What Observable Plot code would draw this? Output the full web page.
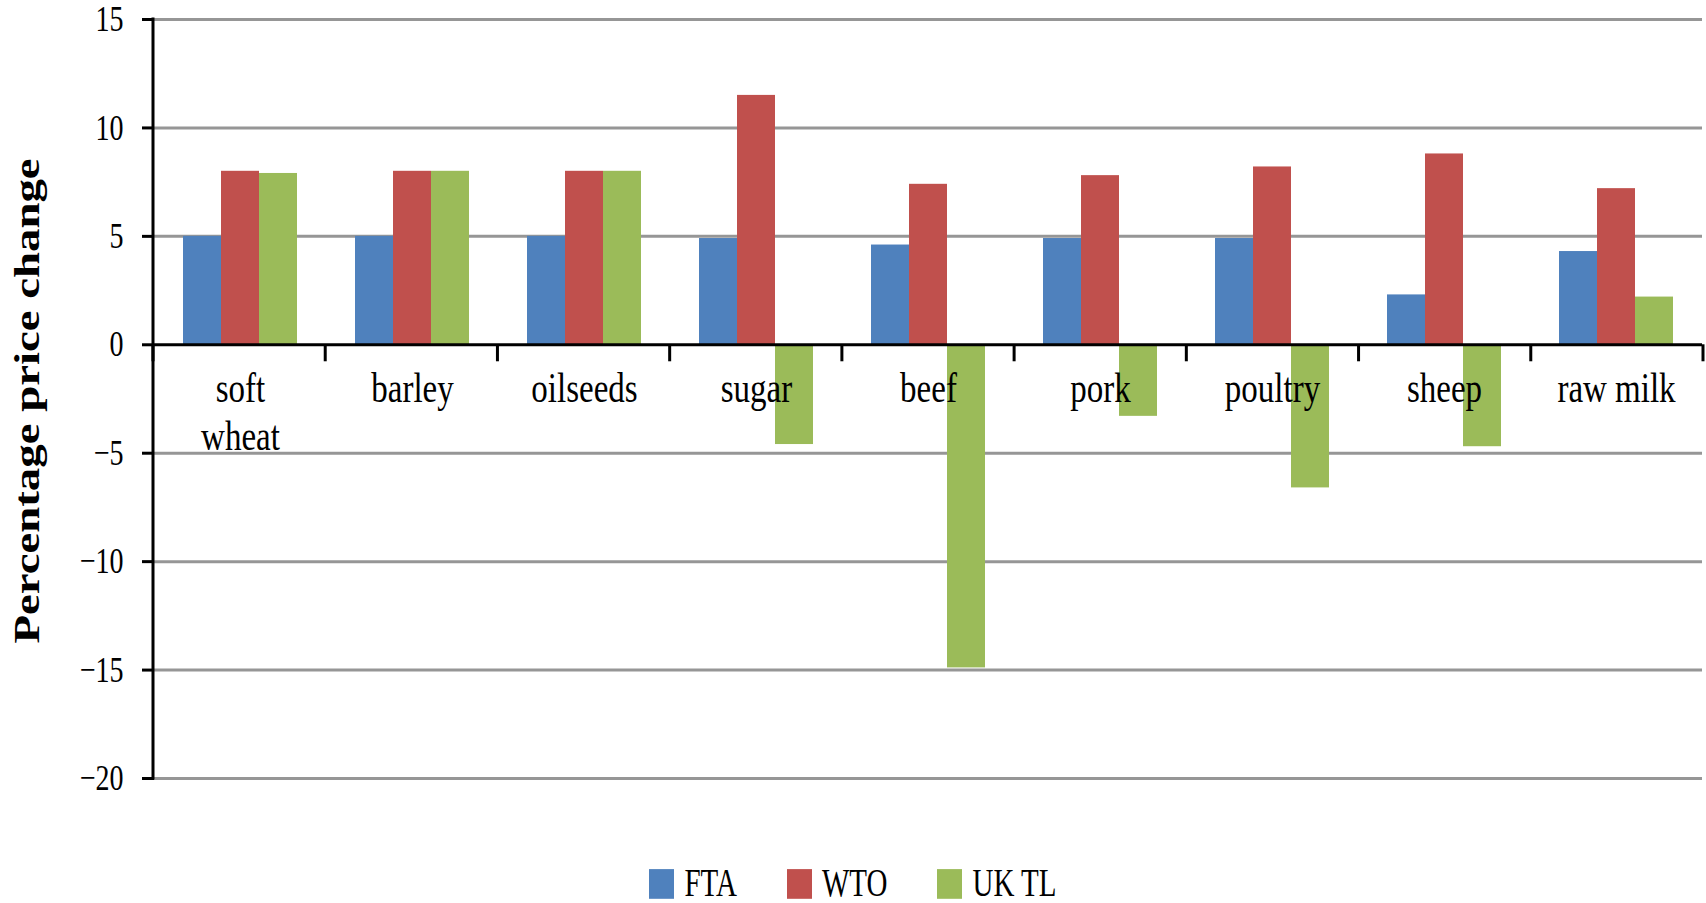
<!DOCTYPE html>
<html>
<head>
<meta charset="utf-8">
<script src="https://cdn.jsdelivr.net/npm/d3@7"></script>
<script src="https://cdn.jsdelivr.net/npm/@observablehq/plot@0.6"></script>
<style>
  html, body { margin: 0; padding: 0; background: #fff; }
  #chart { position: relative; width: 1706px; height: 903px; overflow: hidden; }
  #legend {
    position: absolute; left: 0; top: 861px; width: 1706px;
    transform: scaleY(1.35); transform-origin: top center;
  }
  #legend .lg-swatches { justify-content: center !important; margin: 0 !important; }
  #legend .lg-swatch { margin-right: 50px !important; }
  #legend .lg-swatch:last-child { margin-right: 0 !important; }
  #legend .lg-swatch > svg { margin-right: 10px !important; }
</style>
</head>
<body>
<div id="chart"></div>
<script>
// Commodities along the horizontal axis
const categories = ["soft wheat", "barley", "oilseeds", "sugar", "beef", "pork", "poultry", "sheep", "raw milk"];
const categoryLabels = ["soft\nwheat", "barley", "oilseeds", "sugar", "beef", "pork", "poultry", "sheep", "raw milk"];

// Trade scenarios
const series = ["FTA", "WTO", "UK TL"];
const seriesColors = ["#4F81BD", "#C0504D", "#9BBB59"];

// Percentage price change by scenario
const fta  = [5.0, 5.0, 5.0, 4.9, 4.6, 4.9, 4.9, 2.3, 4.3];
const wto  = [8.0, 8.0, 8.0, 11.5, 7.4, 7.8, 8.2, 8.8, 7.2];
const ukTl = [7.9, 8.0, 8.0, -4.6, -14.9, -3.3, -6.6, -4.7, 2.2];

const yTicks = [-20, -15, -10, -5, 0, 5, 10, 15];
const yTitle = "Percentage price change";

const seriesValues = [fta, wto, ukTl];
const rows = categories.flatMap((c, i) =>
  series.map((s, j) => ({category: c, series: s, value: seriesValues[j][i]}))
);

const fontFamily = "'Liberation Serif', 'DejaVu Serif', serif";
const fmt = d => d < 0 ? "\u2212" + (-d) : String(d);
const stretch = 1.3;

const chart = Plot.plot({
  width: 1706,
  height: 850,
  marginLeft: 153,
  marginRight: 3,
  marginTop: 19,
  marginBottom: 72,
  style: {fontFamily, background: "#fff", color: "#000"},
  fx: {domain: categories, padding: 0, axis: null},
  x: {domain: series, paddingInner: 0, paddingOuter: 0.76, axis: null},
  y: {domain: [-20, 15]},
  color: {domain: series, range: seriesColors},
  marks: [
    Plot.ruleY(yTicks.filter(v => v !== 0), {stroke: "#969696", strokeWidth: 3}),
    Plot.barY(rows, {fx: "category", x: "series", y: "value", fill: "series"}),
    Plot.text(categories, {
      fx: d => d,
      y: 0,
      text: (d, i) => categoryLabels[i],
      lineAnchor: "top",
      lineHeight: 1.12,
      dy: 23,
      fontSize: 33,
      fill: "#000"
    }),
    Plot.ruleY([0], {stroke: "#000", strokeWidth: 3}),
    Plot.axisY({
      ticks: yTicks,
      tickSize: 12,
      tickPadding: 19,
      tickFormat: fmt,
      fontSize: 28,
      color: "#000",
      strokeWidth: 3,
      label: null
    }),
    Plot.text([yTitle], {
      fx: () => categories[0],
      text: d => d,
      frameAnchor: "left",
      rotate: -90,
      textAnchor: "middle",
      lineAnchor: "bottom",
      dx: -116,
      dy: 2,
      fontSize: 36,
      fontWeight: "bold",
      fill: "#000"
    })
  ]
});

// Axis line and category boundary ticks, placed with the plot's own scales
const fxs = chart.scale("fx");
const ys = chart.scale("y");
const band = d3.scaleBand(fxs.domain, fxs.range)
  .paddingInner(fxs.paddingInner ?? 0)
  .paddingOuter(fxs.paddingOuter ?? 0);
const yPos = d3.scaleLinear(ys.domain, ys.range);
const edges = categories.map(c => band(c)).concat([band(categories.at(-1)) + band.bandwidth()]);
const svg = d3.select(chart);
const axisG = svg.append("g").attr("stroke", "#000").attr("stroke-width", 3);
axisG.append("line")
  .attr("x1", edges[0]).attr("x2", edges[0])
  .attr("y1", yPos(15) - 1.5).attr("y2", yPos(-20) + 1.5);
axisG.selectAll(".edge").data(edges).join("line")
  .attr("x1", d => d).attr("x2", d => d)
  .attr("y1", yPos(0)).attr("y2", yPos(0) + 17);

// Tall, narrow lettering: stretch each label vertically about its anchor
svg.selectAll("text").each(function () {
  const t = this.getAttribute("transform") || "";
  const x = +this.getAttribute("x") || 0;
  const y = +this.getAttribute("y") || 0;
  const s = /rotate\(/.test(t) ? `scale(${stretch},1)` : `scale(1,${stretch})`;
  this.setAttribute("transform", `${t} translate(${x},${y}) ${s} translate(${-x},${-y})`);
});

const holder = document.getElementById("chart");
holder.appendChild(chart);

const legendBox = document.createElement("div");
legendBox.id = "legend";
legendBox.appendChild(Plot.legend({
  color: {domain: series, range: seriesColors},
  legend: "swatches",
  swatchWidth: 25,
  swatchHeight: 22,
  className: "lg",
  style: {fontFamily, fontSize: "29px", color: "#000"}
}));
holder.appendChild(legendBox);
</script>
</body>
</html>
